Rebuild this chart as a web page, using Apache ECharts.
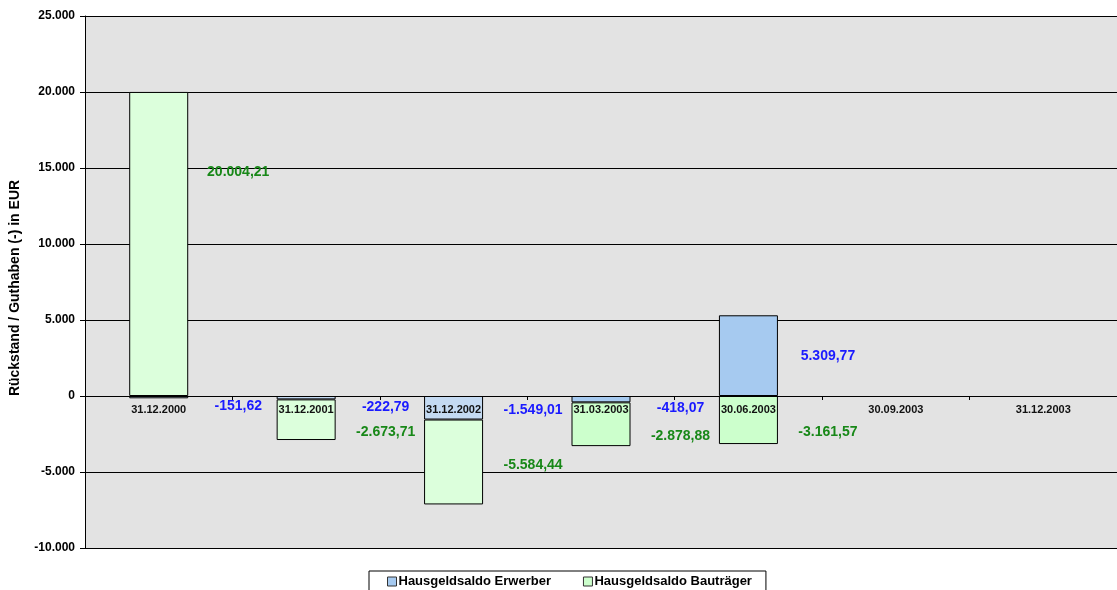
<!DOCTYPE html>
<html>
<head>
<meta charset="utf-8">
<script src="https://cdn.jsdelivr.net/npm/echarts@6/dist/echarts.min.js"></script>
<style>
  html, body { margin: 0; padding: 0; background: #fff; }
  #chart { width: 1117px; height: 590px; }
</style>
</head>
<body>
<div id="chart"></div>
<script>
var stichtage = ['31.12.2000', '31.12.2001', '31.12.2002', '31.03.2003', '30.06.2003', '30.09.2003', '31.12.2003'];
var erwerber = [-151.62, -222.79, -1549.01, -418.07, 5309.77, null, null];
var bautraeger = [20004.21, -2673.71, -5584.44, -2878.88, -3161.57, null, null];
var yTicks = { min: -10000, max: 25000, step: 5000 };

// Zahlen im deutschen Format
function fmt(v, dec) {
	var neg = v < 0;
	var s = Math.abs(v).toFixed(dec);
	var parts = s.split('.');
	var ganz = parts[0].replace(/\B(?=(\d{3})+(?!\d))/g, '.');
	return (neg ? '-' : '') + ganz + (parts[1] ? ',' + parts[1] : '');
}

var font = 'Liberation Sans, Arial, sans-serif';
var gridTop = 16, gridBottom = 42, chartH = 590;

// die ersten drei Balken sind in der Vorlage etwas heller
function items(values, light, dark, lblOffset) {
	return values.map(function(v, i) {
		if (v == null) return null;
		var it = { value: v, itemStyle: { color: i < 3 ? light : dark } };
		if (lblOffset && lblOffset[i]) {
			it.label = { offset: lblOffset[i] };
		}
		return it;
	});
}

var chart = echarts.init(document.getElementById('chart'));

// Kategorieachse sitzt auf der Nulllinie (Beschriftung mit)
var plotH = chartH - gridTop - gridBottom;
var zeroOffset = -plotH * (0 - yTicks.min) / (yTicks.max - yTicks.min);

var option = {
	backgroundColor: '#fff',
	animation: false,
	grid: { left: 85, right: 0, top: gridTop, bottom: gridBottom, show: true, backgroundColor: '#e3e3e3', borderWidth: 0 },
	legend: {
		top: 571,
		left: 369,
		padding: [4, 14, 8, 18],
		itemGap: 32,
		itemWidth: 9,
		itemHeight: 9,
		borderColor: '#000',
		borderWidth: 1,
		backgroundColor: '#fff',
		textStyle: { fontFamily: font, fontWeight: 'bold', fontSize: 13, color: '#000', padding: [0, 0, 0, -3] },
		data: [
			{ name: 'Hausgeldsaldo Erwerber', icon: 'rect', itemStyle: { color: '#a6caf0', borderColor: '#333', borderWidth: 1 } },
			{ name: 'Hausgeldsaldo Bauträger', icon: 'rect', itemStyle: { color: '#ccffcc', borderColor: '#333', borderWidth: 1 } }
		]
	},
	xAxis: {
		type: 'category',
		data: stichtage,
		position: 'bottom',
		offset: zeroOffset,
		axisLine: { onZero: false, lineStyle: { color: '#000', width: 1 } },
		axisTick: { show: true, length: 4, lineStyle: { color: '#000' } },
		axisLabel: { fontFamily: font, fontWeight: 'bold', fontSize: 11, color: '#111', margin: 8 },
		z: 10
	},
	yAxis: {
		type: 'value',
		min: yTicks.min,
		max: yTicks.max,
		interval: yTicks.step,
		name: 'Rückstand / Guthaben (-) in EUR',
		nameLocation: 'middle',
		nameGap: 63,
		nameTextStyle: { fontFamily: font, fontWeight: 'bold', fontSize: 14, color: '#000', padding: [0, 0, 0, -12] },
		axisLine: { show: true, lineStyle: { color: '#000' } },
		axisTick: { show: true, length: 5, lineStyle: { color: '#000' } },
		axisLabel: {
			fontFamily: font, fontWeight: 'bold', fontSize: 12, color: '#000', margin: 10,
			formatter: function(v) { return fmt(v, 0); }
		},
		splitLine: { show: true, lineStyle: { color: '#000', width: 1 } }
	},
	series: [
		{
			name: 'Hausgeldsaldo Erwerber',
			type: 'bar',
			stack: 'saldo',
			barWidth: 59,
			color: '#a6caf0',
			itemStyle: { borderColor: '#000', borderWidth: 1 },
			label: {
				show: true, position: 'right', distance: 50, align: 'center', offset: [0, 9],
				fontFamily: font, fontWeight: 'bold', fontSize: 14, color: '#1a1aff',
				formatter: function(p) { return fmt(p.value, 2); }
			},
			data: items(erwerber, '#c4daf2', '#a6caf0', { 2: [0, 2], 4: [0, 0] })
		},
		{
			name: 'Hausgeldsaldo Bauträger',
			type: 'bar',
			stack: 'saldo',
			barWidth: 59,
			color: '#ccffcc',
			itemStyle: { borderColor: '#000', borderWidth: 1 },
			label: {
				show: true, position: 'right', distance: 50, align: 'center', offset: [0, 12],
				fontFamily: font, fontWeight: 'bold', fontSize: 14, color: '#188818',
				formatter: function(p) { return fmt(p.value, 2); }
			},
			data: items(bautraeger, '#dcffdc', '#ccffcc', { 0: [0, -72], 2: [0, 3] })
		}
	]
};

chart.setOption(option);
</script>
</body>
</html>
